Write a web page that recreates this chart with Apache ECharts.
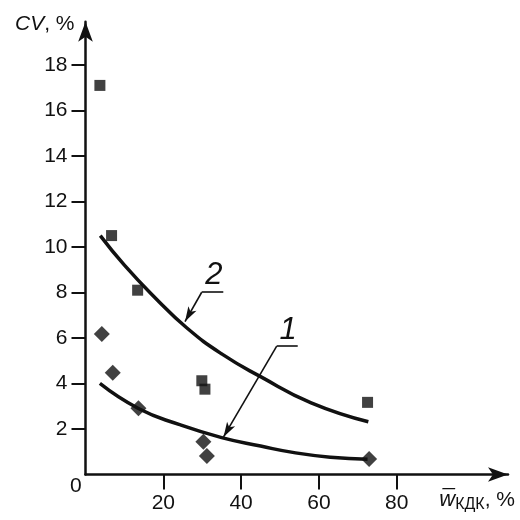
<!DOCTYPE html>
<html><head><meta charset="utf-8">
<script src="https://cdn.jsdelivr.net/npm/echarts@6/dist/echarts.min.js"></script>
<style>html,body{margin:0;padding:0;background:#fff}#c{width:520px;height:520px}</style>
</head><body><div id="c"></div>
<script>
const xTicks = [20, 40, 60, 80];
const yTicks = [2, 4, 6, 8, 10, 12, 14, 16, 18];
// series 2 (squares)
const sqX = [3.7, 6.7, 13.4, 29.9, 30.7, 72.5];
const sqY = [17.1, 10.5, 8.1, 4.12, 3.75, 3.17];
// series 1 (diamonds)
const diX = [4.2, 7.0, 13.6, 30.3, 31.2, 72.9];
const diY = [6.18, 4.47, 2.91, 1.44, 0.81, 0.68];
// curve 1
const c1X = [3.7, 13.6, 24, 35, 45, 54, 63, 72.5];
const c1Y = [4.0, 2.9, 2.2, 1.62, 1.25, 0.95, 0.76, 0.67];
// curve 2
const c2X = [3.8, 10, 18, 26, 35, 45, 58, 72.7];
const c2Y = [10.5, 9.2, 7.75, 6.45, 5.3, 4.3, 3.15, 2.32];
// annotation labels and leaders (data coords)
const lab2 = {text: '2', at: [33.0, 8.73], ul: [[29.87, 8.01], [35.42, 8.01]], tip: [25.58, 6.72]};
const lab1 = {text: '1', at: [52.1, 6.35], ul: [[49.15, 5.64], [54.55, 5.64]], tip: [35.48, 1.65]};

const FF = '"Liberation Sans", Arial, Helvetica, sans-serif';
const INK = '#111';
const zip = (a, b) => a.map((v, i) => [v, b[i]]);

function annot(l) {
  return {
    markLine: {
      silent: true, animation: false,
      label: {show: false},
      lineStyle: {type: 'solid', width: 1.6, color: INK},
      data: [
        [{coord: l.ul[0], symbol: 'none'}, {coord: l.ul[1], symbol: 'none'}],
        [{coord: l.ul[0], symbol: 'none'}, {coord: l.tip, symbol: 'arrow', symbolSize: [7, 15]}]
      ]
    },
    markPoint: {
      silent: true, animation: false,
      symbol: 'circle', symbolSize: 1,
      itemStyle: {color: 'rgba(0,0,0,0)'},
      label: {show: true, position: 'inside', formatter: l.text, fontSize: 31, fontStyle: 'italic', color: INK, fontFamily: FF},
      data: [{coord: l.at}]
    }
  };
}

const chart = echarts.init(document.getElementById('c'));
chart.setOption({
  animation: false,
  backgroundColor: '#fff',
  grid: {left: 85.5, top: 21.7, right: 12, bottom: 45.5, outerBoundsMode: 'none'},
  xAxis: {
    type: 'value', min: 0, max: 108.6, interval: 20,
    name: '{i|w\u0305}{s|КДК}, %',
    nameLocation: 'end', nameGap: 7, nameMoveOverlap: false,
    nameTextStyle: {
      align: 'right', verticalAlign: 'top', padding: [13, 0, 0, 0],
      fontSize: 21, color: INK, fontFamily: FF, lineHeight: 25,
      rich: {
        i: {fontStyle: 'italic', fontSize: 22, color: INK, fontFamily: FF, lineHeight: 25},
        s: {fontSize: 16, color: INK, fontFamily: FF, verticalAlign: 'bottom', lineHeight: 15}
      }
    },
    axisLine: {lineStyle: {color: INK, width: 2.5}, symbol: ['none', 'arrow'], symbolSize: [11, 20]},
    axisTick: {customValues: xTicks, length: 15, lineStyle: {color: INK, width: 2}},
    axisLabel: {customValues: xTicks, margin: 18, fontSize: 21, color: INK, fontFamily: FF},
    splitLine: {show: false}
  },
  yAxis: {
    type: 'value', min: 0, max: 19.9, interval: 2,
    name: '{i|CV}, %',
    nameLocation: 'end', nameGap: -2.5, nameMoveOverlap: false,
    nameTextStyle: {
      align: 'right', verticalAlign: 'middle', padding: [0, 11, 0, 0],
      fontSize: 21, color: INK, fontFamily: FF,
      rich: {i: {fontStyle: 'italic', fontSize: 21, color: INK, fontFamily: FF}}
    },
    axisLine: {lineStyle: {color: INK, width: 2.5}, symbol: ['none', 'arrow'], symbolSize: [11, 20]},
    axisTick: {customValues: yTicks, length: 14, lineStyle: {color: INK, width: 2}},
    axisLabel: {customValues: yTicks, margin: 18, fontSize: 21, color: INK, fontFamily: FF},
    splitLine: {show: false}
  },
  graphic: [{type: 'text', left: 70, top: 476, style: {text: '0', fontSize: 21, fill: INK, fontFamily: FF}}],
  series: [
    Object.assign({type: 'line', name: '2', data: zip(c2X, c2Y), smooth: 0.5, showSymbol: false,
      lineStyle: {color: INK, width: 3.5}, z: 2}, annot(lab2)),
    Object.assign({type: 'line', name: '1', data: zip(c1X, c1Y), smooth: 0.5, showSymbol: false,
      lineStyle: {color: INK, width: 3.5}, z: 2}, annot(lab1)),
    {type: 'scatter', data: zip(sqX, sqY), symbol: 'rect', symbolSize: 11, itemStyle: {color: INK}, z: 3},
    {type: 'scatter', data: zip(diX, diY), symbol: 'diamond', symbolSize: 16, itemStyle: {color: INK}, z: 3}
  ]
});
</script></body></html>
